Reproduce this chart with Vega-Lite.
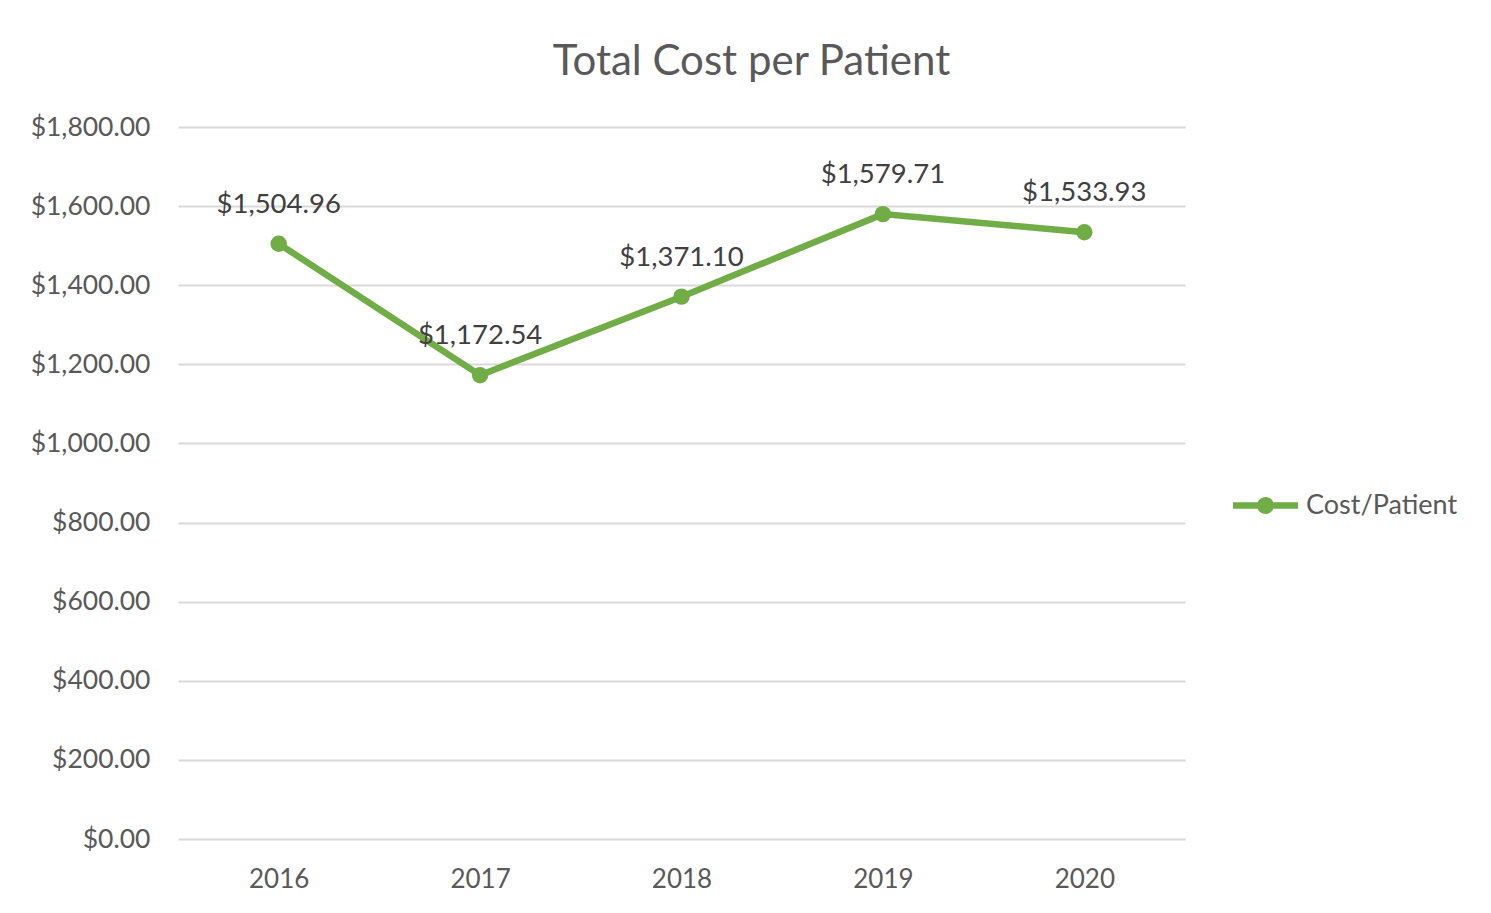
{
  "$schema": "https://vega.github.io/schema/vega-lite/v6.json",
  "autosize": {"type": "none"},
  "width": 1007,
  "height": 712,
  "padding": {"left": 178, "top": 127, "right": 306, "bottom": 74},
  "background": "#ffffff",
  "title": {
    "text": "Total Cost per Patient",
    "font": "Lato",
    "fontSize": 42,
    "fontWeight": "normal",
    "color": "#595959",
    "anchor": "middle",
    "dx": 70,
    "offset": 30
  },
  "config": {
    "view": {"stroke": null},
    "font": "Lato"
  },
  "data": {
    "values": [
      {"year": "2016", "cost": 1504.96, "series": "Cost/Patient"},
      {"year": "2017", "cost": 1172.54, "series": "Cost/Patient"},
      {"year": "2018", "cost": 1371.10, "series": "Cost/Patient"},
      {"year": "2019", "cost": 1579.71, "series": "Cost/Patient"},
      {"year": "2020", "cost": 1533.93, "series": "Cost/Patient"}
    ]
  },
  "encoding": {
    "x": {
      "field": "year",
      "type": "ordinal",
      "scale": {"type": "point", "padding": 0.5},
      "axis": {
        "title": null,
        "labelAngle": 0,
        "labelFont": "Lato",
        "labelFontSize": 26,
        "labelColor": "#595959",
        "labelPadding": 27,
        "ticks": false,
        "domain": false,
        "grid": false
      }
    },
    "y": {
      "field": "cost",
      "type": "quantitative",
      "scale": {"domain": [0, 1800], "nice": false},
      "axis": {
        "title": null,
        "values": [0, 200, 400, 600, 800, 1000, 1200, 1400, 1600, 1800],
        "format": "$,.2f",
        "labelFont": "Lato",
        "labelFontSize": 26.5,
        "labelColor": "#595959",
        "labelPadding": 28,
        "ticks": false,
        "domain": false,
        "grid": true,
        "gridColor": "#d9d9d9",
        "gridWidth": 2
      }
    }
  },
  "layer": [
    {
      "mark": {"type": "line", "color": "#70ad47", "strokeWidth": 6.5}
    },
    {
      "mark": {"type": "point", "filled": true, "opacity": 1, "size": 270},
      "encoding": {
        "color": {
          "field": "series",
          "type": "nominal",
          "scale": {"range": ["#70ad47"]},
          "legend": {
            "title": null,
            "orient": "none",
            "legendX": 1055,
            "legendY": 346,
            "symbolType": "M-1,-0.1L1,-0.1L1,0.1L-1,0.1Z M0.26,0A0.26,0.26 0 1 1 -0.26,0A0.26,0.26 0 1 1 0.26,0Z",
            "symbolSize": 4225,
            "symbolStrokeWidth": 0,
            "symbolOpacity": 1,
            "labelFont": "Lato",
            "labelFontSize": 27,
            "labelColor": "#595959",
            "labelOffset": 8
          }
        }
      }
    },
    {
      "mark": {
        "type": "text",
        "baseline": "middle",
        "align": "center",
        "dy": -39,
        "font": "Lato",
        "fontSize": 27.5,
        "color": "#404040"
      },
      "encoding": {
        "text": {"field": "cost", "type": "quantitative", "format": "$,.2f"}
      }
    }
  ]
}
